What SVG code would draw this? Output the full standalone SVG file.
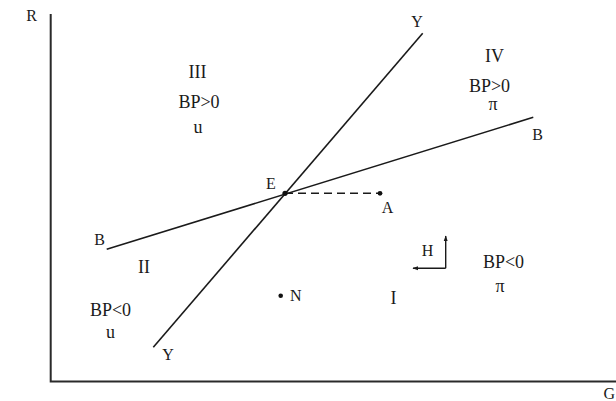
<svg xmlns="http://www.w3.org/2000/svg" width="616" height="401" viewBox="0 0 616 401">
<defs>
<style>
.t{font-family:"Liberation Serif","Times New Roman",serif;fill:#1a1a1a;text-anchor:middle}
.l{font-size:16px}
.z{font-size:18px}
.ln{stroke:#1a1a1a;stroke-width:1.6;fill:none}
.ax{stroke:#2a2a2a;stroke-width:2;fill:none}
.dot{fill:#111}
</style>
<marker id="ah" viewBox="0 0 10 10" refX="9" refY="5" markerWidth="6" markerHeight="6" markerUnits="userSpaceOnUse" orient="auto">
<path d="M0,1.5 L10,5 L0,8.5 z" fill="#1a1a1a"/>
</marker>
</defs>
<rect width="616" height="401" fill="#ffffff"/>
<g id="axes">
<polyline class="ax" points="50.7,14 50.7,381.5 616,381.5"/>
<text class="t l" x="31.5" y="21">R</text>
<text class="t l" x="603.5" y="399" style="text-anchor:start">G</text>
</g>
<g id="connectors">
<line id="YY" class="ln" x1="153.3" y1="347.3" x2="422.7" y2="33.3"/>
<line id="BB" class="ln" x1="106.7" y1="249.3" x2="533.3" y2="117.3"/>
<line id="EA" class="ln" x1="285" y1="193.3" x2="380" y2="193.3" stroke-dasharray="8,5"/>
<polyline id="Hx" class="ln" points="445.7,268.3 413,268.3" marker-end="url(#ah)" style="stroke-width:1.4"/>
<line id="Hy" class="ln" x1="445.7" y1="268.3" x2="445.7" y2="236" marker-end="url(#ah)" style="stroke-width:1.4"/>
</g>
<g id="node-Y-top"><text class="t l" x="417" y="27">Y</text></g>
<g id="node-Y-bottom"><text class="t l" x="168" y="360">Y</text></g>
<g id="node-B-left"><text class="t l" x="99.5" y="245">B</text></g>
<g id="node-B-right"><text class="t l" x="537.5" y="140">B</text></g>
<g id="node-E"><circle class="dot" cx="285" cy="193.3" r="2.6"/><text class="t l" x="271" y="188.5">E</text></g>
<g id="node-A"><circle class="dot" cx="380" cy="193.3" r="2.4"/><text class="t l" x="387.5" y="213">A</text></g>
<g id="node-N"><circle class="dot" cx="280.7" cy="295.7" r="2.3"/><text class="t l" x="290" y="300.5" style="text-anchor:start">N</text></g>
<g id="node-H"><text class="t l" x="427.5" y="256">H</text></g>
<g id="zone-III">
<text class="t z" x="197.5" y="77.5">III</text>
<text class="t z" x="199" y="108">BP&gt;0</text>
<text class="t z" x="198" y="133">u</text>
</g>
<g id="zone-IV">
<text class="t z" x="494.5" y="62">IV</text>
<text class="t z" x="489.5" y="91.5">BP&gt;0</text>
<text class="t z" x="493" y="110">π</text>
</g>
<g id="zone-II">
<text class="t z" x="144" y="272.5">II</text>
<text class="t z" x="110.5" y="315.5">BP&lt;0</text>
<text class="t z" x="110.5" y="338">u</text>
</g>
<g id="zone-I">
<text class="t z" x="393.5" y="303.5">I</text>
<text class="t z" x="503.5" y="268">BP&lt;0</text>
<text class="t z" x="500" y="292">π</text>
</g>
</svg>
